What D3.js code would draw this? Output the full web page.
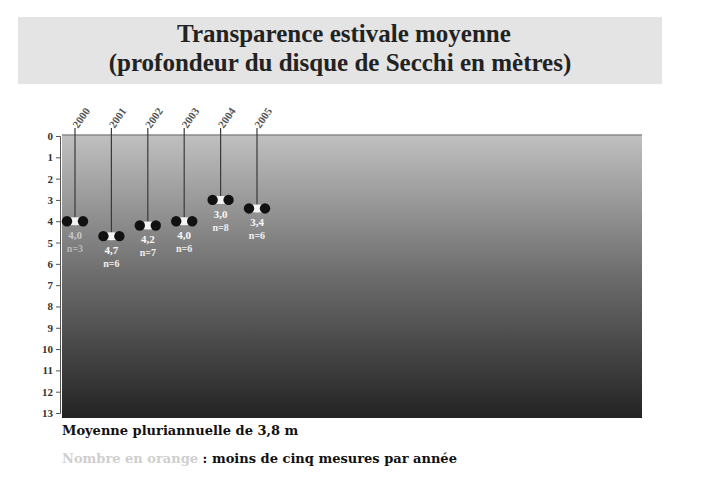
<!DOCTYPE html>
<html>
<head>
<meta charset="utf-8">
<script src="https://cdn.jsdelivr.net/npm/d3@7"></script>
<style>
  body { margin: 0; background: #fff; }
  text { font-family: "Liberation Serif", "DejaVu Serif", serif; font-weight: bold; }
</style>
</head>
<body>
<script>
/* données */
var annees = ["2000", "2001", "2002", "2003", "2004", "2005"];
var profondeurs = [4.0, 4.7, 4.2, 4.0, 3.0, 3.4];
var peuDeMesures = [true, false, false, false, false, false];
var nbMesures = [3, 6, 7, 6, 8, 6];
var graduations = [0, 1, 2, 3, 4, 5, 6, 7, 8, 9, 10, 11, 12, 13];

var width = 702, height = 483;
var svg = d3.select("body").append("svg")
    .attr("width", width)
    .attr("height", height);

// cadre du titre
svg.append("rect")
    .attr("x", 18).attr("y", 17)
    .attr("width", 644).attr("height", 67)
    .attr("fill", "#e4e4e4");
svg.append("text")
    .attr("x", 344).attr("y", 42)
    .attr("text-anchor", "middle")
    .attr("font-size", 25)
    .attr("fill", "#222")
    .text("Transparence estivale moyenne");
svg.append("text")
    .attr("x", 340).attr("y", 71)
    .attr("text-anchor", "middle")
    .attr("font-size", 25)
    .attr("fill", "#222")
    .text("(profondeur du disque de Secchi en mètres)");

// zone du graphe
var plot = { left: 62, right: 642, top: 135, bottom: 418 };

var defs = svg.append("defs");
var grad = defs.append("linearGradient")
    .attr("id", "eau")
    .attr("x1", 0).attr("y1", 0).attr("x2", 0).attr("y2", 1);
grad.append("stop").attr("offset", "0%").attr("stop-color", "#c0c0c0");
grad.append("stop").attr("offset", "50%").attr("stop-color", "#6c6c6c");
grad.append("stop").attr("offset", "100%").attr("stop-color", "#232323");

svg.append("rect")
    .attr("x", plot.left).attr("y", plot.top)
    .attr("width", plot.right - plot.left)
    .attr("height", plot.bottom - plot.top)
    .attr("fill", "url(#eau)");
svg.append("line")
    .attr("x1", plot.left).attr("x2", plot.right)
    .attr("y1", plot.top).attr("y2", plot.top)
    .attr("stroke", "#888").attr("stroke-width", 1.5);

// échelles
var xscale = d3.scalePoint()
    .domain(annees)
    .range([75, 257]);

var yscale = d3.scaleLinear()
    .domain([0, 13])
    .range([136, 413]);

var y_axis = d3.axisLeft()
    .scale(yscale)
    .tickValues(graduations)
    .tickSize(4)
    .tickFormat(d3.format("d"));

var gy = svg.append("g")
    .attr("transform", "translate(" + (plot.left - 2) + ",0)")
    .call(y_axis);
gy.select(".domain").attr("stroke", "#555");
gy.selectAll(".tick line").attr("stroke", "#555");
gy.selectAll(".tick text")
    .attr("font-size", 11)
    .attr("fill", "#333");

var data = annees.map(function (a, i) {
    return { annee: a, prof: profondeurs[i], peu: peuDeMesures[i], n: nbMesures[i] };
});

var virgule = d3.formatLocale({ decimal: ",", thousands: " ", grouping: [3], currency: ["", " €"] }).format(".1f");

var g = svg.append("g").selectAll("g")
    .data(data)
    .enter()
    .append("g");

// étiquettes des années
g.append("text")
    .attr("transform", function (d) { return "translate(" + (xscale(d.annee) + 3) + ",129) rotate(-55)"; })
    .attr("font-size", 11)
    .attr("fill", "#555")
    .text(function (d) { return d.annee; });

// corde du disque
g.append("line")
    .attr("x1", function (d) { return xscale(d.annee); })
    .attr("x2", function (d) { return xscale(d.annee); })
    .attr("y1", 128)
    .attr("y2", function (d) { return yscale(d.prof); })
    .attr("stroke", "#3a3a3a")
    .attr("stroke-width", 1.2);

// disque de Secchi
g.append("ellipse")
    .attr("cx", function (d) { return xscale(d.annee); })
    .attr("cy", function (d) { return yscale(d.prof); })
    .attr("rx", 13).attr("ry", 4)
    .attr("fill", "#f4f4f4");
g.append("circle")
    .attr("cx", function (d) { return xscale(d.annee) - 8; })
    .attr("cy", function (d) { return yscale(d.prof); })
    .attr("r", 5.2)
    .attr("fill", "#111");
g.append("circle")
    .attr("cx", function (d) { return xscale(d.annee) + 8; })
    .attr("cy", function (d) { return yscale(d.prof); })
    .attr("r", 5.2)
    .attr("fill", "#111");

// valeurs
g.append("text")
    .attr("x", function (d) { return xscale(d.annee); })
    .attr("y", function (d) { return yscale(d.prof) + 18; })
    .attr("text-anchor", "middle")
    .attr("font-size", 11)
    .attr("fill", function (d) { return d.peu ? "#c8c8c8" : "#f8f8f8"; })
    .text(function (d) { return virgule(d.prof); });
g.append("text")
    .attr("x", function (d) { return xscale(d.annee); })
    .attr("y", function (d) { return yscale(d.prof) + 31; })
    .attr("text-anchor", "middle")
    .attr("font-size", 10)
    .attr("fill", function (d) { return d.peu ? "#b8b8b8" : "#f0f0f0"; })
    .text(function (d) { return "n=" + d.n; });

// notes
svg.append("text")
    .attr("x", 62).attr("y", 435)
    .attr("font-size", 13)
    .style("font-family", "'DejaVu Serif', serif")
    .attr("fill", "#111")
    .text("Moyenne pluriannuelle de 3,8 m");
var note = svg.append("text")
    .attr("x", 62).attr("y", 463)
    .attr("font-size", 13)
    .style("font-family", "'DejaVu Serif', serif");
note.append("tspan").attr("fill", "#cfcfcf").text("Nombre en orange");
note.append("tspan").attr("fill", "#111").text(" : moins de cinq mesures par année");
</script>
</body>
</html>
